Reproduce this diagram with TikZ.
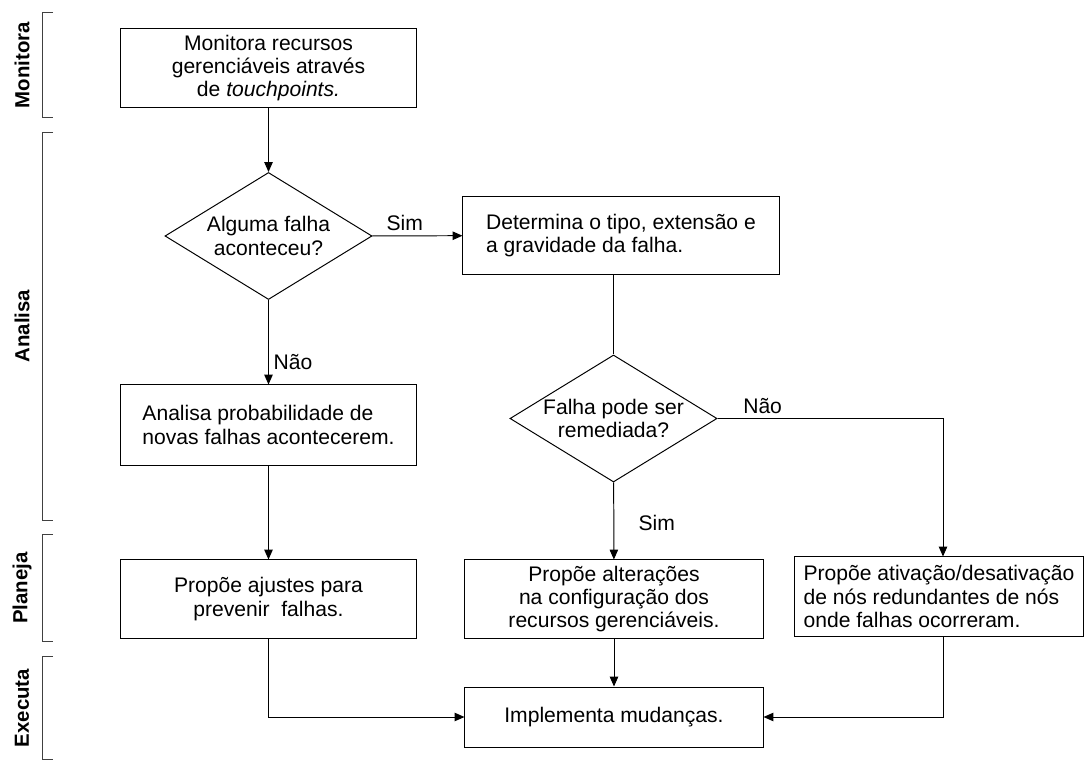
\documentclass[tikz,border=0pt]{standalone}
\usepackage{fontspec}
\setmainfont{Liberation Sans}
\usetikzlibrary{arrows.meta,shapes.geometric,positioning}

\begin{document}
\begin{tikzpicture}[x=0.025cm, y=-0.025cm, line width=0.7pt,
        font=\fontsize{15}{16.5}\selectfont,
        >={Triangle[length=7pt, width=6pt]},
        caixa/.style={draw, rectangle, inner sep=0pt, align=center},
        decisao/.style={draw, diamond, inner sep=0pt, aspect=1.63, align=center,
            minimum width=5.175cm, minimum height=3.175cm},
        fase/.style={rotate=90, font=\fontsize{14.5}{16}\selectfont\bfseries},
        chave/.style={draw=black!75}]
    \useasboundingbox (0,0) rectangle (1086,761);

    % fases
    \node[fase] (fmon) at (22,65) {Monitora};
    \node[fase] (fana) at (22,326) {Analisa};
    \node[fase] (fpla) at (22,588) {Planeja};
    \node[fase] (fexe) at (22,708) {Executa};
    \draw[chave] (53,12) -| (42,117) -- (53,117);
    \draw[chave] (53,132) -| (42,520) -- (53,520);
    \draw[chave] (53,534) -| (42,641) -- (53,641);
    \draw[chave] (53,656) -| (42,759) -- (53,759);

    % caixas
    \node[caixa, minimum width=7.375cm, minimum height=1.95cm] (mon) at (268.5,68)
        {Monitora recursos\\gerenciáveis através\\de \textit{touchpoints.}};
    \node[decisao] (d1) at (268.5,236) {Alguma falha\\aconteceu?};
    \node[caixa, minimum width=7.9cm, minimum height=1.925cm, align=left] (det) at (621,235.5)
        {Determina o tipo, extensão e\\a gravidade da falha.};
    \node[caixa, minimum width=7.375cm, minimum height=2cm, align=left] (prob) at (268.5,425)
        {Analisa probabilidade de\\novas falhas acontecerem.};
    \node[decisao] (d2) at (613.5,418.5) {Falha pode ser\\remediada?};
    \node[caixa, minimum width=7.375cm, minimum height=1.95cm] (ajus) at (268.5,599)
        {Propõe ajustes para\\prevenir\ \ falhas.};
    \node[caixa, minimum width=7.45cm, minimum height=1.95cm] (alt) at (614,599)
        {Propõe alterações\\na configuração dos\\recursos gerenciáveis.};
    \node[caixa, minimum width=7.2cm, minimum height=1.975cm, align=left] (ativ) at (939,596.5)
        {Propõe ativação/desativação\\de nós redundantes de nós\\onde falhas ocorreram.};
    \node[caixa, minimum width=7.45cm, minimum height=1.5cm] (impl) at (614,717)
        {Implementa mudanças.};

    % ligacoes
    \draw[->] (mon) -- (d1);
    \draw[->] (d1) -- node[above, pos=0.36] {Sim} (det);
    \draw[->] (d1) -- node[right, pos=0.74] {Não} (prob);
    \draw (det.south -| d2.north) -- (d2.north);
    \draw[->] (d2.east) -| node[above, pos=0.1] {Não} (ativ.north -| 943,0);
    \draw[->] (d2) -- node[right, pos=0.52, xshift=14pt] {Sim} (alt);
    \draw[->] (prob) -- (ajus);
    \draw[->] (ajus) |- (impl);
    \draw[->] (alt) -- (impl);
    \draw[->] (ativ.south -| 943,0) |- (impl);
\end{tikzpicture}
\end{document}
